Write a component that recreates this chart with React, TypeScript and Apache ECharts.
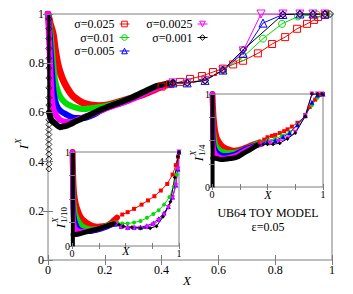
import React, { useEffect, useRef } from 'react';
import * as echarts from 'echarts';

const sigmaNames = ['σ=0.025', 'σ=0.01', 'σ=0.005', 'σ=0.0025', 'σ=0.001'];
const colors = ['#ff0000', '#00dd00', '#0000ff', '#ff00ff', '#000000'];
const symbols = ['rect', 'circle', 'triangle', 'triangle', 'diamond'];
const symbolRotations = [0, 0, 0, 180, 0];
const mainTickInterval = 0.2;
const insetTickInterval = 0.25;
const modelTitle = 'UB64 TOY MODEL';
const modelParam = 'ε=0.05';

// ---------- main plot I^X ----------
const mainBandA = [[0,1],[0.008,0.96],[0.018,0.92],[0.025,0.86],[0.036,0.79],[0.05,0.74],[0.067,0.7],[0.085,0.67],[0.1,0.655],[0.12,0.64],[0.15,0.63],[0.18,0.627],[0.21,0.63],[0.24,0.64],[0.27,0.65],[0.3,0.66],[0.34,0.675],[0.37,0.69],[0.4,0.705],[0.44,0.72]];
const mainPtsA = [[0.4,0.705],[0.43,0.715],[0.465,0.724],[0.5,0.736],[0.542,0.748],[0.581,0.764],[0.616,0.778],[0.652,0.795],[0.687,0.81],[0.739,0.84],[0.789,0.878],[0.835,0.906],[0.877,0.94],[0.912,0.96],[0.937,0.976],[0.951,0.988],[0.975,0.996]];
const mainBandB = [[0,1],[0.006,0.95],[0.012,0.88],[0.018,0.8],[0.025,0.73],[0.035,0.685],[0.045,0.66],[0.06,0.64],[0.077,0.628],[0.095,0.62],[0.113,0.615],[0.13,0.614],[0.148,0.617],[0.17,0.62],[0.2,0.625],[0.24,0.638],[0.3,0.66],[0.37,0.695],[0.44,0.72]];
const mainPtsB = [[0.44,0.72],[0.49,0.722],[0.553,0.732],[0.616,0.772],[0.687,0.825],[0.757,0.9],[0.824,0.96],[0.88,0.99],[0.947,0.998],[0.98,1]];
const mainBandC = [[0,1],[0.005,0.93],[0.01,0.84],[0.015,0.75],[0.02,0.68],[0.03,0.63],[0.045,0.605],[0.067,0.59],[0.085,0.58],[0.102,0.577],[0.12,0.577],[0.137,0.58],[0.16,0.59],[0.183,0.605],[0.22,0.625],[0.26,0.64],[0.3,0.658],[0.37,0.695],[0.44,0.72]];
const mainPtsC = [[0.44,0.72],[0.49,0.72],[0.553,0.73],[0.616,0.772],[0.687,0.84],[0.757,0.963],[0.827,0.998],[0.887,1],[0.933,1],[0.975,1]];
const mainBandD = [[0,1],[0.004,0.9],[0.008,0.78],[0.012,0.68],[0.016,0.63],[0.025,0.595],[0.042,0.57],[0.06,0.562],[0.077,0.56],[0.095,0.565],[0.113,0.575],[0.15,0.59],[0.19,0.61],[0.24,0.63],[0.3,0.656],[0.37,0.693],[0.44,0.72]];
const mainPtsD = [[0.44,0.72],[0.49,0.72],[0.553,0.73],[0.616,0.772],[0.687,0.85],[0.75,1],[0.827,1],[0.887,1],[0.933,1],[0.975,1]];
const mainBandE = [[0.004,0.6],[0.01,0.575],[0.018,0.562],[0.028,0.552],[0.042,0.54],[0.055,0.543],[0.067,0.546],[0.08,0.553],[0.1,0.565],[0.13,0.58],[0.183,0.61],[0.24,0.635],[0.3,0.663],[0.34,0.685],[0.384,0.708],[0.44,0.72]];
const mainPtsE = [[0.44,0.72],[0.49,0.72],[0.553,0.73],[0.616,0.772],[0.687,0.854],[0.827,0.998],[0.887,1],[0.933,1],[0.975,1],[0.993,1]];
const mainColumnE = [[0.003,0.37],[0.003,0.39],[0.003,0.41],[0.003,0.43],[0.003,0.45],[0.003,0.47],[0.003,0.49],[0.003,0.51],[0.003,0.53],[0.003,0.55],[0.003,0.57],[0.003,0.6],[0.003,0.63],[0.003,0.66],[0.003,0.7],[0.003,0.74],[0.003,0.78],[0.003,0.82],[0.003,0.86],[0.003,0.9],[0.003,0.94],[0.003,0.98]];
const mainColumnTopE = [[0.003,1],[0.003,0.6]];

// ---------- inset I^X_{1/10} ----------
const tenBandA = [[0.005,1],[0.008,0.85],[0.012,0.7],[0.02,0.55],[0.035,0.45],[0.05,0.39],[0.075,0.32],[0.1,0.28],[0.14,0.245],[0.19,0.215],[0.24,0.205],[0.29,0.21],[0.33,0.22],[0.36,0.24],[0.39,0.27],[0.42,0.3]];
const tenPtsA = [[0.42,0.3],[0.47,0.335],[0.52,0.36],[0.58,0.395],[0.65,0.44],[0.71,0.485],[0.77,0.53],[0.83,0.59],[0.89,0.66],[0.94,0.76],[0.97,0.86],[0.99,0.95],[1,1]];
const tenBandB = [[0.005,1],[0.008,0.7],[0.015,0.5],[0.03,0.35],[0.05,0.29],[0.075,0.24],[0.1,0.21],[0.14,0.19],[0.19,0.18],[0.24,0.185],[0.29,0.2],[0.33,0.22],[0.38,0.24],[0.42,0.245]];
const tenPtsB = [[0.42,0.245],[0.47,0.24],[0.52,0.24],[0.58,0.25],[0.64,0.265],[0.7,0.3],[0.76,0.34],[0.81,0.38],[0.86,0.44],[0.91,0.52],[0.95,0.63],[0.98,0.76],[1,1]];
const tenBandC = [[0.005,1],[0.007,0.6],[0.012,0.4],[0.025,0.28],[0.05,0.2],[0.075,0.17],[0.12,0.155],[0.17,0.155],[0.22,0.165],[0.27,0.18],[0.32,0.2],[0.37,0.225],[0.41,0.235]];
const tenPtsC = [[0.41,0.235],[0.46,0.21],[0.52,0.2],[0.58,0.2],[0.64,0.2],[0.7,0.215],[0.76,0.245],[0.81,0.29],[0.86,0.35],[0.9,0.42],[0.94,0.52],[0.97,0.65],[0.99,0.82],[1,1]];
const tenBandD = [[0.005,1],[0.007,0.5],[0.012,0.3],[0.025,0.2],[0.05,0.165],[0.1,0.155],[0.17,0.165],[0.25,0.185],[0.33,0.215],[0.41,0.235]];
const tenPtsD = [[0.41,0.235],[0.46,0.2],[0.52,0.19],[0.58,0.19],[0.64,0.19],[0.7,0.2],[0.76,0.225],[0.81,0.27],[0.86,0.33],[0.9,0.41],[0.94,0.51],[0.97,0.64],[0.99,0.82],[1,1]];
const tenBandE = [[0.01,0.12],[0.05,0.125],[0.1,0.14],[0.17,0.16],[0.25,0.185],[0.33,0.215],[0.4,0.24]];
const tenPtsE = [[0.4,0.24],[0.44,0.225],[0.48,0.21],[0.56,0.2],[0.64,0.19],[0.73,0.19],[0.79,0.21],[0.85,0.31],[0.92,0.47],[0.96,0.73],[0.99,0.95],[1,1]];
const tenColumnE = [[0.008,1],[0.008,0]];

// ---------- inset I^X_{1/4} ----------
const qBandA = [[0.004,1],[0.008,0.88],[0.015,0.74],[0.027,0.61],[0.04,0.54],[0.054,0.5],[0.075,0.46],[0.1,0.43],[0.13,0.41],[0.16,0.4],[0.2,0.39],[0.24,0.395],[0.28,0.41],[0.32,0.43],[0.36,0.45],[0.43,0.48]];
const qPtsA = [[0.43,0.48],[0.47,0.51],[0.5,0.535],[0.54,0.55],[0.57,0.56],[0.61,0.58],[0.65,0.6],[0.68,0.62],[0.72,0.65],[0.77,0.69],[0.84,0.76],[0.88,0.86],[0.93,0.94],[0.97,0.99],[1,1]];
const qBandB = [[0.004,1],[0.007,0.8],[0.012,0.62],[0.027,0.49],[0.04,0.44],[0.07,0.4],[0.1,0.38],[0.13,0.37],[0.18,0.37],[0.23,0.38],[0.28,0.4],[0.32,0.42],[0.36,0.44],[0.41,0.47],[0.45,0.48]];
const qPtsB = [[0.45,0.48],[0.5,0.5],[0.57,0.52],[0.63,0.55],[0.7,0.59],[0.77,0.67],[0.84,0.77],[0.9,0.88],[0.95,0.96],[0.99,1]];
const qBandC = [[0.004,1],[0.006,0.75],[0.01,0.55],[0.02,0.43],[0.04,0.38],[0.07,0.35],[0.1,0.34],[0.15,0.34],[0.2,0.35],[0.25,0.38],[0.3,0.41],[0.37,0.44],[0.45,0.47]];
const qPtsC = [[0.45,0.47],[0.5,0.49],[0.57,0.5],[0.64,0.54],[0.7,0.58],[0.77,0.67],[0.84,0.77],[0.9,0.91],[0.95,0.99],[1,1]];
const qBandD = [[0.004,1],[0.006,0.6],[0.01,0.45],[0.02,0.38],[0.05,0.33],[0.1,0.31],[0.16,0.32],[0.22,0.34],[0.28,0.38],[0.33,0.41],[0.39,0.44],[0.45,0.46]];
const qPtsD = [[0.45,0.46],[0.52,0.47],[0.6,0.49],[0.68,0.52],[0.75,0.59],[0.84,0.77],[0.9,1],[0.95,1],[0.99,1]];
const qBandE = [[0.008,0.31],[0.027,0.31],[0.06,0.3],[0.1,0.295],[0.16,0.305],[0.225,0.32],[0.28,0.36],[0.34,0.4],[0.41,0.45]];
const qPtsE = [[0.41,0.45],[0.46,0.46],[0.5,0.46],[0.55,0.46],[0.61,0.47],[0.68,0.52],[0.75,0.58],[0.84,0.76],[0.9,1],[0.95,1],[0.99,1]];
const qColumnE = [[0.005,1],[0.005,0]];

const FONT = 'Liberation Serif';
const GRAY = '#7c7c7c';

const mainBands = [mainBandA, mainBandB, mainBandC, mainBandD, mainBandE];
const mainPts = [mainPtsA, mainPtsB, mainPtsC, mainPtsD, mainPtsE];
const tenBands = [tenBandA, tenBandB, tenBandC, tenBandD, tenBandE];
const tenPts = [tenPtsA, tenPtsB, tenPtsC, tenPtsD, tenPtsE];
const qBands = [qBandA, qBandB, qBandC, qBandD, qBandE];
const qPts = [qPtsA, qPtsB, qPtsC, qPtsD, qPtsE];

const hollow = (color: string) => ({ color: 'rgba(255,255,255,0)', borderColor: color, borderWidth: 1 });

function band(name: string, data: number[][], color: string, width: number, gi: number, z: number) {
  return {
    type: 'line', name, data, xAxisIndex: gi * 2, yAxisIndex: gi * 2,
    symbol: 'none', showSymbol: false, smooth: 0.25, silent: true, z,
    lineStyle: { color, width, cap: 'round', join: 'round' },
  };
}

function markers(name: string, data: number[][], i: number, gi: number, z: number, main: boolean) {
  const color = colors[i];
  return {
    type: 'line', name, data, xAxisIndex: gi * 2, yAxisIndex: gi * 2,
    symbol: symbols[i], symbolRotate: symbolRotations[i],
    symbolSize: main ? (i === 2 || i === 3 ? 8 : 7) : (i === 2 || i === 3 ? 5 : 4),
    showSymbol: true, silent: true, z,
    lineStyle: { color, width: 1 },
    itemStyle: main ? hollow(color) : { color, borderWidth: 0 },
  };
}

function axesFor(gi: number, interval: number, main: boolean) {
  const z = main ? 3 : 6;
  const fmt = main ? undefined : (v: number) => (v === 0 || v === 1 ? String(v) : '');
  const labelStyle = { fontFamily: FONT, fontSize: main ? 12 : 10, color: '#000', margin: main ? 4 : 2, formatter: fmt };
  const tick = { show: true, inside: true, length: main ? 5 : 3, lineStyle: { color: GRAY } };
  const base = { type: 'value', gridIndex: gi, min: 0, max: 1, interval, z, axisLine: { show: false }, splitLine: { show: false } };
  return {
    x: [
      { ...base, position: 'bottom', axisTick: tick, axisLabel: labelStyle },
      { ...base, position: 'top', axisTick: tick, axisLabel: { show: false } },
    ],
    y: [
      { ...base, position: 'left', axisTick: tick, axisLabel: labelStyle },
      { ...base, position: 'right', axisTick: tick, axisLabel: { show: false } },
    ],
  };
}

function rotLabel(cx: number, cy: number, sub: string | null) {
  const children: any[] = [
    { type: 'text', x: 0, y: 0, style: { text: 'I', fontFamily: FONT, fontStyle: 'italic', fontSize: 13, fill: '#000', align: 'right', verticalAlign: 'middle', textAlign: 'right', textVerticalAlign: 'middle' } },
    { type: 'text', x: 1, y: -5, style: { text: 'X', fontFamily: FONT, fontStyle: 'italic', fontSize: 9, fill: '#000', align: 'left', verticalAlign: 'middle', textAlign: 'left', textVerticalAlign: 'middle' } },
  ];
  if (sub) {
    children.push({ type: 'text', x: 1, y: 4, style: { text: sub, fontFamily: FONT, fontSize: 9, fill: '#000', align: 'left', verticalAlign: 'middle', textAlign: 'left', textVerticalAlign: 'middle' } });
  }
  return { type: 'group', x: cx, y: cy, rotation: Math.PI / 2, z: 10, children };
}

function centerText(text: string, x: number, y: number, size: number, italic: boolean) {
  return { type: 'text', x, y, z: 10, style: { text, fontFamily: FONT, fontStyle: italic ? 'italic' : 'normal', fontSize: size, fill: '#000', align: 'center', verticalAlign: 'middle', textAlign: 'center', textVerticalAlign: 'middle' } };
}

function buildOption() {
  const a0 = axesFor(0, mainTickInterval, true);
  const a1 = axesFor(1, insetTickInterval, false);
  const a2 = axesFor(2, insetTickInterval, false);
  const series: any[] = [];
  for (let i = 0; i < 5; i++) {
    series.push(band('mb' + i, mainBands[i], colors[i], i === 0 ? 7 : 6, 0, 2));
    series.push(markers(sigmaNames[i], mainPts[i], i, 0, 2, true));
  }
  series.push({ type: 'line', name: 'mcoltop', data: mainColumnTopE, xAxisIndex: 0, yAxisIndex: 0, symbol: 'none', silent: true, z: 2, lineStyle: { color: '#000', width: 3 } });
  series.push({
    type: 'scatter', name: 'mcol', data: mainColumnE, xAxisIndex: 0, yAxisIndex: 0, silent: true, z: 2,
    symbol: 'diamond', symbolSize: 6, itemStyle: hollow('#000'),
  });
  for (let i = 0; i < 5; i++) {
    series.push(band('tb' + i, tenBands[i], colors[i], i === 0 ? 6 : 5, 1, 4));
    series.push(markers('tp' + i, tenPts[i], i, 1, 4, false));
  }
  series.push({ type: 'line', name: 'tcol', data: tenColumnE, xAxisIndex: 2, yAxisIndex: 2, symbol: 'none', silent: true, z: 4, lineStyle: { color: '#000', width: 4 } });
  for (let i = 0; i < 5; i++) {
    series.push(band('qb' + i, qBands[i], colors[i], i === 0 ? 6 : 5, 2, 4));
    series.push(markers('qp' + i, qPts[i], i, 2, 4, false));
  }
  series.push({ type: 'line', name: 'qcol', data: qColumnE, xAxisIndex: 4, yAxisIndex: 4, symbol: 'none', silent: true, z: 4, lineStyle: { color: '#000', width: 4 } });

  const legendBase = {
    orient: 'vertical', align: 'right', itemWidth: 10, itemHeight: 7, itemGap: 1.5, padding: 0,
    selectedMode: false, textStyle: { fontFamily: FONT, fontSize: 12, color: '#000', lineHeight: 11 },
  };
  const legendItem = (k: number) => ({ name: sigmaNames[k], itemStyle: hollow(colors[k]), lineStyle: { color: colors[k], width: 1 } });

  return {
    animation: false,
    backgroundColor: '#fff',
    textStyle: { fontFamily: FONT },
    grid: [
      { left: 48, top: 14, width: 284, height: 246, show: true, borderColor: GRAY, borderWidth: 1, backgroundColor: 'rgba(255,255,255,0)', z: 1 },
      { left: 72, top: 152, width: 107, height: 94, show: true, borderColor: GRAY, borderWidth: 1, backgroundColor: '#fff', z: 3 },
      { left: 212, top: 94, width: 111, height: 93, show: true, borderColor: GRAY, borderWidth: 1, backgroundColor: '#fff', z: 3 },
    ],
    xAxis: [...a0.x, ...a1.x, ...a2.x],
    yAxis: [...a0.y, ...a1.y, ...a2.y],
    legend: [
      { ...legendBase, data: [0, 1, 2].map(legendItem), right: 223, top: 18 },
      { ...legendBase, data: [3, 4].map(legendItem), right: 145, top: 18 },
    ],
    series,
    graphic: [
      rotLabel(23, 145, null),
      rotLabel(60, 224, '1/10'),
      rotLabel(198, 157, '1/4'),
      centerText('X', 187, 280, 13, true),
      centerText('X', 126, 251, 12, true),
      centerText('X', 268, 195, 12, true),
      centerText(modelTitle, 268, 213, 12, false),
      centerText(modelParam, 268, 227, 12, false),
    ],
  };
}

export default function App() {
  const ref = useRef<HTMLDivElement>(null);
  useEffect(() => {
    if (!ref.current) return;
    const chart = echarts.init(ref.current, null, { renderer: 'svg' });
    chart.setOption(buildOption() as any);
    return () => chart.dispose();
  }, []);
  return <div ref={ref} style={{ position: 'fixed', left: 0, top: 0, width: 353, height: 294 }} />;
}
